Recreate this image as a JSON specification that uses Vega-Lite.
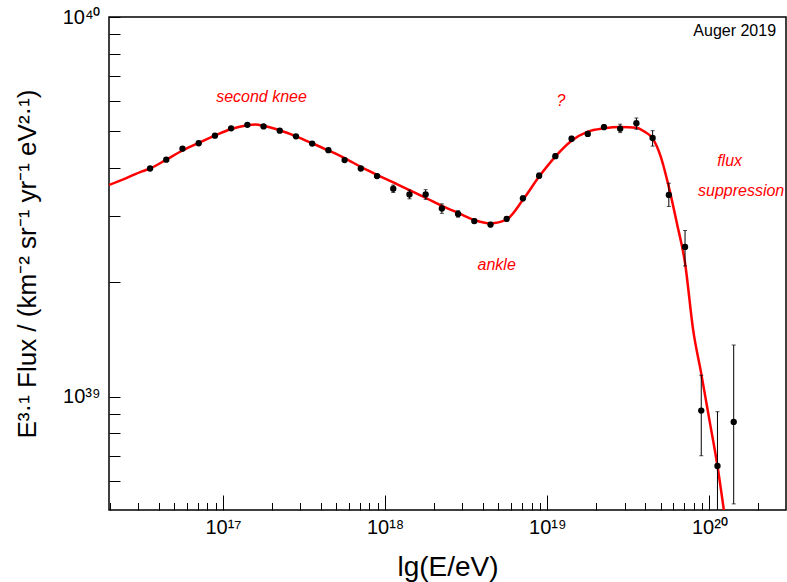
{
  "$schema": "https://vega.github.io/schema/vega-lite/v6.json",
  "width": 677,
  "height": 493,
  "autosize": {"type": "none"},
  "padding": {"left": 109, "top": 17, "right": 1, "bottom": 72},
  "background": "white",
  "config": {
    "font": "Liberation Sans",
    "view": {"stroke": "black", "strokeWidth": 1.5}
  },
  "datasets": {
    "pts": [
      {"E": 3.548e16, "F": 3.99e39, "lo": 3.95e39, "hi": 4.03e39},
      {"E": 4.467e16, "F": 4.21e39, "lo": 4.17e39, "hi": 4.25e39},
      {"E": 5.623e16, "F": 4.50e39, "lo": 4.46e39, "hi": 4.54e39},
      {"E": 7.079e16, "F": 4.65e39, "lo": 4.61e39, "hi": 4.69e39},
      {"E": 8.913e16, "F": 4.87e39, "lo": 4.83e39, "hi": 4.91e39},
      {"E": 1.122e17, "F": 5.09e39, "lo": 5.05e39, "hi": 5.13e39},
      {"E": 1.413e17, "F": 5.20e39, "lo": 5.16e39, "hi": 5.24e39},
      {"E": 1.778e17, "F": 5.15e39, "lo": 5.11e39, "hi": 5.19e39},
      {"E": 2.239e17, "F": 5.02e39, "lo": 4.98e39, "hi": 5.06e39},
      {"E": 2.818e17, "F": 4.85e39, "lo": 4.81e39, "hi": 4.89e39},
      {"E": 3.548e17, "F": 4.64e39, "lo": 4.60e39, "hi": 4.68e39},
      {"E": 4.467e17, "F": 4.46e39, "lo": 4.42e39, "hi": 4.50e39},
      {"E": 5.623e17, "F": 4.20e39, "lo": 4.16e39, "hi": 4.24e39},
      {"E": 7.079e17, "F": 3.99e39, "lo": 3.95e39, "hi": 4.03e39},
      {"E": 8.913e17, "F": 3.81e39, "lo": 3.76e39, "hi": 3.86e39},
      {"E": 1.122e18, "F": 3.53e39, "lo": 3.45e39, "hi": 3.61e39},
      {"E": 1.413e18, "F": 3.41e39, "lo": 3.32e39, "hi": 3.50e39},
      {"E": 1.778e18, "F": 3.41e39, "lo": 3.31e39, "hi": 3.51e39},
      {"E": 2.239e18, "F": 3.13e39, "lo": 3.04e39, "hi": 3.22e39},
      {"E": 2.818e18, "F": 3.03e39, "lo": 2.97e39, "hi": 3.09e39},
      {"E": 3.548e18, "F": 2.90e39, "lo": 2.86e39, "hi": 2.94e39},
      {"E": 4.467e18, "F": 2.84e39, "lo": 2.80e39, "hi": 2.88e39},
      {"E": 5.623e18, "F": 2.94e39, "lo": 2.90e39, "hi": 2.98e39},
      {"E": 7.079e18, "F": 3.33e39, "lo": 3.28e39, "hi": 3.38e39},
      {"E": 8.913e18, "F": 3.82e39, "lo": 3.76e39, "hi": 3.88e39},
      {"E": 1.122e19, "F": 4.30e39, "lo": 4.24e39, "hi": 4.36e39},
      {"E": 1.413e19, "F": 4.78e39, "lo": 4.71e39, "hi": 4.85e39},
      {"E": 1.778e19, "F": 4.92e39, "lo": 4.85e39, "hi": 4.99e39},
      {"E": 2.239e19, "F": 5.13e39, "lo": 5.05e39, "hi": 5.21e39},
      {"E": 2.818e19, "F": 5.08e39, "lo": 4.96e39, "hi": 5.22e39},
      {"E": 3.548e19, "F": 5.25e39, "lo": 5.06e39, "hi": 5.42e39},
      {"E": 4.467e19, "F": 4.80e39, "lo": 4.57e39, "hi": 5.02e39},
      {"E": 5.623e19, "F": 3.40e39, "lo": 3.17e39, "hi": 3.65e39},
      {"E": 7.079e19, "F": 2.48e39, "lo": 2.21e39, "hi": 2.74e39},
      {"E": 8.913e19, "F": 9.19e38, "lo": 6.99e38, "hi": 1.139e39},
      {"E": 1.122e20, "F": 6.57e38, "lo": 5.0e38, "hi": 9.13e38},
      {"E": 1.413e20, "F": 8.58e38, "lo": 5.22e38, "hi": 1.368e39}
    ],
    "fit": [
      {"E": 1.98e16, "F": 3.61e39},
      {"E": 2.512e16, "F": 3.76e39},
      {"E": 3.162e16, "F": 3.92e39},
      {"E": 3.548e16, "F": 3.99e39},
      {"E": 4.467e16, "F": 4.21e39},
      {"E": 5.623e16, "F": 4.45e39},
      {"E": 7.079e16, "F": 4.66e39},
      {"E": 8.913e16, "F": 4.87e39},
      {"E": 1.122e17, "F": 5.07e39},
      {"E": 1.413e17, "F": 5.19e39},
      {"E": 1.585e17, "F": 5.21e39},
      {"E": 1.778e17, "F": 5.17e39},
      {"E": 2.239e17, "F": 5.03e39},
      {"E": 2.818e17, "F": 4.85e39},
      {"E": 3.548e17, "F": 4.65e39},
      {"E": 4.467e17, "F": 4.45e39},
      {"E": 5.623e17, "F": 4.25e39},
      {"E": 7.079e17, "F": 4.03e39},
      {"E": 8.913e17, "F": 3.84e39},
      {"E": 1.122e18, "F": 3.67e39},
      {"E": 1.413e18, "F": 3.50e39},
      {"E": 1.778e18, "F": 3.34e39},
      {"E": 2.239e18, "F": 3.18e39},
      {"E": 2.818e18, "F": 3.05e39},
      {"E": 3.548e18, "F": 2.92e39},
      {"E": 4.467e18, "F": 2.86e39},
      {"E": 5.623e18, "F": 2.93e39},
      {"E": 7.079e18, "F": 3.30e39},
      {"E": 8.913e18, "F": 3.80e39},
      {"E": 1.122e19, "F": 4.29e39},
      {"E": 1.413e19, "F": 4.72e39},
      {"E": 1.778e19, "F": 4.99e39},
      {"E": 2.239e19, "F": 5.09e39},
      {"E": 2.818e19, "F": 5.13e39},
      {"E": 3.548e19, "F": 5.11e39},
      {"E": 3.981e19, "F": 4.99e39},
      {"E": 4.467e19, "F": 4.79e39},
      {"E": 5.012e19, "F": 4.29e39},
      {"E": 5.623e19, "F": 3.57e39},
      {"E": 6.310e19, "F": 2.86e39},
      {"E": 7.079e19, "F": 2.25e39},
      {"E": 7.943e19, "F": 1.50e39},
      {"E": 8.913e19, "F": 1.15e39},
      {"E": 1.0e20, "F": 8.7e38},
      {"E": 1.122e20, "F": 6.57e38},
      {"E": 1.259e20, "F": 4.66e38}
    ],
    "notes": [
      {"E": 1.728e17, "F": 6.14e39, "label": "second knee"},
      {"E": 1.216e19, "F": 6.01e39, "label": "?"},
      {"E": 4.876e18, "F": 2.216e39, "label": "ankle"},
      {"E": 1.333e20, "F": 4.18e39, "label": "flux"},
      {"E": 1.57e20, "F": 3.48e39, "label": "suppression"}
    ],
    "tag": [
      {"E": 2.579e20, "F": 9.19e39, "label": "Auger 2019"}
    ]
  },
  "layer": [
    {
      "data": {"name": "fit"},
      "mark": {"type": "line", "color": "#ff0000", "strokeWidth": 2.5, "interpolate": "monotone", "clip": true},
      "encoding": {
        "x": {
          "field": "E", "type": "quantitative",
          "scale": {"type": "log", "domain": [1.98e16, 2.97e20], "nice": false},
          "axis": {
            "title": "lg(E/eV)",
            "titleFontSize": 28, "titleFontWeight": "normal", "titleColor": "black", "titlePadding": 9,
            "domain": false, "grid": false,
            "values": [2e16,3e16,4e16,5e16,6e16,7e16,8e16,9e16,1e17,2e17,3e17,4e17,5e17,6e17,7e17,8e17,9e17,1e18,2e18,3e18,4e18,5e18,6e18,7e18,8e18,9e18,1e19,2e19,3e19,4e19,5e19,6e19,7e19,8e19,9e19,1e20,2e20],
            "labelExpr": "datum.value === 1e17 ? '10¹⁷' : datum.value === 1e18 ? '10¹⁸' : datum.value === 1e19 ? '10¹⁹' : datum.value === 1e20 ? '10²⁰' : ''",
            "labelFontSize": 20, "labelColor": "black", "labelPadding": 22, "labelFlush": false, "labelOverlap": false,
            "tickColor": "black", "tickWidth": 1,
            "tickSize": {"condition": {"test": "datum.value === 1e17 || datum.value === 1e18 || datum.value === 1e19 || datum.value === 1e20", "value": -15}, "value": -7.5}
          }
        },
        "y": {
          "field": "F", "type": "quantitative",
          "scale": {"type": "log", "domain": [5.03e38, 1e40], "nice": false},
          "axis": {
            "title": "E³·¹ Flux / (km⁻² sr⁻¹ yr⁻¹ eV²·¹)",
            "titleFontSize": 26, "titleFontWeight": "normal", "titleColor": "black", "titlePadding": 22,
            "domain": false, "grid": false,
            "values": [6e38,7e38,8e38,9e38,1e39,2e39,3e39,4e39,5e39,6e39,7e39,8e39,9e39,1e40],
            "labelExpr": "datum.value === 1e39 ? '10³⁹' : datum.value === 1e40 ? '10⁴⁰' : ''",
            "labelFontSize": 20, "labelColor": "black", "labelPadding": 20, "labelFlush": false, "labelOverlap": false,
            "tickColor": "black", "tickWidth": 1, "tickSize": -11
          }
        }
      }
    },
    {
      "data": {"name": "pts"},
      "mark": {"type": "rule", "color": "black", "strokeWidth": 1, "clip": true},
      "encoding": {
        "x": {"field": "E", "type": "quantitative"},
        "y": {"field": "lo", "type": "quantitative"},
        "y2": {"field": "hi"}
      }
    },
    {
      "data": {"name": "pts"},
      "mark": {"type": "tick", "orient": "horizontal", "color": "black", "size": 4, "thickness": 1, "clip": true},
      "encoding": {
        "x": {"field": "E", "type": "quantitative"},
        "y": {"field": "lo", "type": "quantitative"}
      }
    },
    {
      "data": {"name": "pts"},
      "mark": {"type": "tick", "orient": "horizontal", "color": "black", "size": 4, "thickness": 1, "clip": true},
      "encoding": {
        "x": {"field": "E", "type": "quantitative"},
        "y": {"field": "hi", "type": "quantitative"}
      }
    },
    {
      "data": {"name": "pts"},
      "mark": {"type": "circle", "color": "black", "opacity": 1, "size": 40},
      "encoding": {
        "x": {"field": "E", "type": "quantitative"},
        "y": {"field": "F", "type": "quantitative"}
      }
    },
    {
      "data": {"name": "notes"},
      "mark": {"type": "text", "color": "#ff0000", "fontSize": 16, "font": "Liberation Sans", "fontStyle": "italic", "align": "center", "baseline": "middle"},
      "encoding": {
        "x": {"field": "E", "type": "quantitative"},
        "y": {"field": "F", "type": "quantitative"},
        "text": {"field": "label"}
      }
    },
    {
      "data": {"name": "tag"},
      "mark": {"type": "text", "color": "black", "fontSize": 16, "font": "Liberation Sans", "align": "right", "baseline": "middle"},
      "encoding": {
        "x": {"field": "E", "type": "quantitative"},
        "y": {"field": "F", "type": "quantitative"},
        "text": {"field": "label"}
      }
    }
  ]
}
